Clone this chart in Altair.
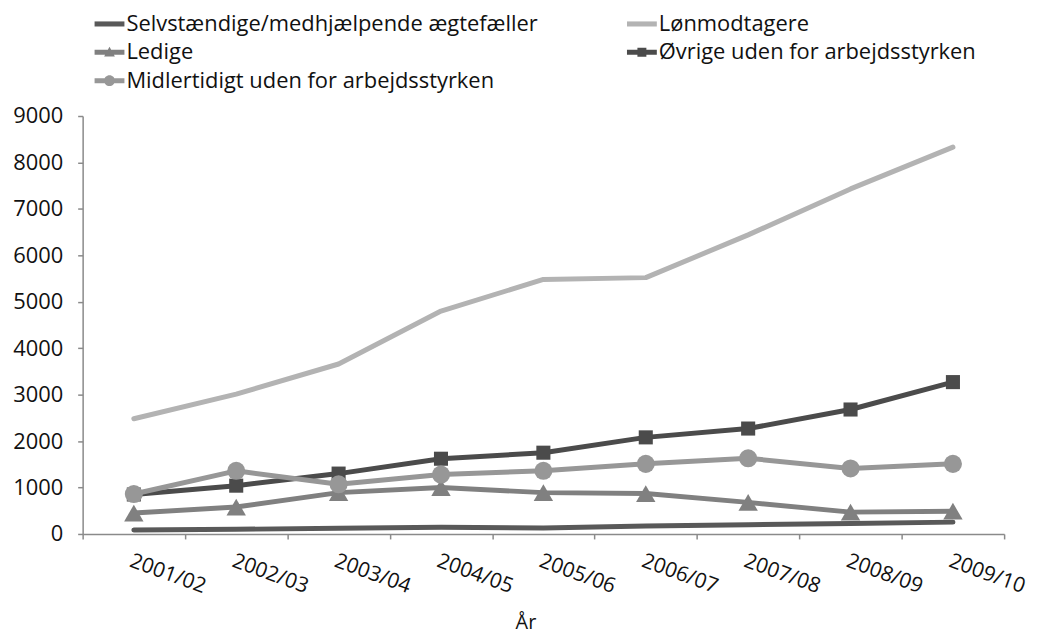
import altair as alt
import pandas as pd

# ---- data ----
years = ["2001/02", "2002/03", "2003/04", "2004/05", "2005/06",
         "2006/07", "2007/08", "2008/09", "2009/10"]
series_names = [
    "Selvstændige/medhjælpende ægtefæller",
    "Lønmodtagere",
    "Ledige",
    "Øvrige uden for arbejdsstyrken",
    "Midlertidigt uden for arbejdsstyrken",
]
selvstaendige = [85, 100, 125, 145, 130, 170, 200, 225, 255]
lonmodtagere = [2480, 3010, 3660, 4800, 5480, 5520, 6440, 7430, 8330]
ledige = [450, 580, 890, 1000, 890, 870, 680, 470, 490]
ovrige = [850, 1040, 1300, 1620, 1750, 2080, 2270, 2680, 3270]
midlertidigt = [860, 1360, 1070, 1280, 1360, 1510, 1630, 1410, 1510]
y_ticks = [0, 1000, 2000, 3000, 4000, 5000, 6000, 7000, 8000, 9000]

# ---- styles ----
colors = ["#595959", "#b3b3b3", "#808080", "#4b4b4b", "#979797"]
marker_shapes = {
    "Ledige": ("triangle-up", 380),
    "Øvrige uden for arbejdsstyrken": ("square", 200),
    "Midlertidigt uden for arbejdsstyrken": ("circle", 330),
}
LINE = "M-1,-0.17H1V0.17H-1Z"
legend_paths = [
    LINE,
    LINE,
    LINE + " M0,-0.38L0.36,0.28H-0.36Z",
    LINE + " M-0.3,-0.3H0.3V0.3H-0.3Z",
    LINE + " M-0.36,0A0.36,0.36 0 1,1 0.36,0A0.36,0.36 0 1,1 -0.36,0Z",
]
# legend fills columns top-to-bottom; this order reads row by row as in the reference
legend_order = [0, 2, 4, 1, 3]
legend_domain = [series_names[i] for i in legend_order]
legend_colors = [colors[i] for i in legend_order]
legend_shapes = [legend_paths[i] for i in legend_order]

values_by_series = [selvstaendige, lonmodtagere, ledige, ovrige, midlertidigt]
rows = []
for name, vals in zip(series_names, values_by_series):
    for yr, v in zip(years, vals):
        rows.append({"year": yr, "series": name, "value": v, "hide": 0})
df = pd.DataFrame(rows)

FONT = "Open Sans"
TXT = "#111111"
AX = "#8a8a8a"

x_enc = alt.X(
    "year:N",
    scale=alt.Scale(type="band", domain=years, paddingInner=0, paddingOuter=0),
    axis=alt.Axis(
        title="År",
        tickBand="extent",
        labelAngle=20,
        labelAlign="left",
        labelBaseline="top",
        labelPadding=11,
        labelFont=FONT,
        labelFontSize=21,
        labelColor=TXT,
        tickSize=5,
        tickColor=AX,
        tickWidth=1.5,
        domainColor=AX,
        domainWidth=1.5,
        titleFont=FONT,
        titleFontSize=20,
        titleFontWeight="normal",
        titleColor=TXT,
        titleX=445,
        titleY=95,
        titleAlign="center",
        titleBaseline="alphabetic",
        grid=False,
        labelOverlap=False,
    ),
)
y_enc = alt.Y(
    "value:Q",
    scale=alt.Scale(domain=[0, 9000], nice=False),
    axis=alt.Axis(
        values=y_ticks,
        format="d",
        title=None,
        grid=False,
        labelFont=FONT,
        labelFontSize=22,
        labelColor=TXT,
        labelPadding=15,
        tickSize=5,
        tickColor=AX,
        tickWidth=1.5,
        domainColor=AX,
        domainWidth=1.5,
    ),
)

stroke_scale = alt.Scale(domain=series_names, range=colors)
base = alt.Chart(df)

layers = []
for name in series_names:
    layers.append(
        base.transform_filter(alt.datum.series == name)
        .mark_line(strokeWidth=5, strokeCap="round", strokeJoin="round")
        .encode(x=x_enc, y=y_enc,
                stroke=alt.Stroke("series:N", scale=stroke_scale, legend=None))
    )
    if name in marker_shapes:
        shp, sz = marker_shapes[name]
        layers.append(
            base.transform_filter(alt.datum.series == name)
            .mark_point(filled=True, shape=shp, size=sz, opacity=1, strokeWidth=0)
            .encode(x=x_enc, y=y_enc,
                    fill=alt.Fill("series:N", scale=stroke_scale, legend=None))
        )

leg = alt.Legend(
    title=None,
    orient="none",
    legendX=12,
    legendY=-107.5,
    columns=2,
    columnPadding=89,
    rowPadding=2.5,
    padding=0,
    symbolSize=900,
    symbolStrokeWidth=0,
    symbolOpacity=1,
    labelFont=FONT,
    labelFontSize=22,
    labelColor=TXT,
    labelOffset=2,
    labelLimit=700,
)
legend_layer = (
    base.mark_point(filled=True, opacity=1, strokeWidth=0)
    .encode(
        x=x_enc,
        y=y_enc,
        color=alt.Color("series:N", scale=alt.Scale(domain=legend_domain, range=legend_colors), legend=leg),
        shape=alt.Shape("series:N", scale=alt.Scale(domain=legend_domain, range=legend_shapes), legend=leg),
        opacity=alt.Opacity("hide:Q", scale=alt.Scale(domain=[0, 1], range=[0, 0]), legend=None),
    )
)
layers.insert(0, legend_layer)

chart = (
    alt.layer(*layers)
    .properties(
        width=926,
        height=420,
        autosize=alt.AutoSizeParams(type="none"),
        padding={"left": 75, "top": 107, "right": 26, "bottom": 101},
        background="white",
    )
    .configure_view(stroke=None)
)

chart.save("out.html", embed_options={"renderer": "svg", "actions": False})
